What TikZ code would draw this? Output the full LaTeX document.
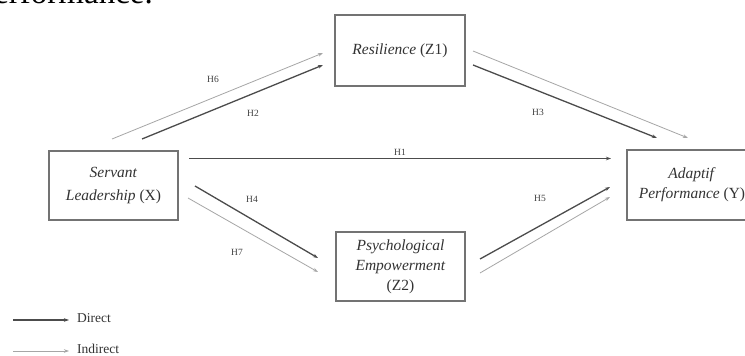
\documentclass[tikz,border=0pt]{standalone}
\usepackage{fontspec}
\setmainfont{Liberation Serif}
\usetikzlibrary{arrows.meta}
\begin{document}
\begin{tikzpicture}[x=1pt,y=-1pt,
  box/.style={draw=black!55,line width=1.1pt,minimum width=129pt,minimum height=69pt,inner sep=0pt,align=center,text=black!80,font=\fontsize{15.5}{20}\selectfont},
  direct/.style={draw=black!70,line width=1.3pt,-{Stealth[length=5pt,width=3.5pt]}},
  indirect/.style={draw=black!35,line width=0.8pt,-{Stealth[length=5pt,width=3.5pt]}},
  hlab/.style={font=\fontsize{9.5}{9.5}\selectfont,text=black!75,inner sep=0pt},
  legtext/.style={font=\fontsize{13.5}{14}\selectfont,text=black!80,anchor=west,inner sep=0pt}]
\useasboundingbox (0,0) rectangle (745,356);
\clip (0,0) rectangle (745,356);
\fill[white] (0,0) rectangle (745,356);
% cut-off text above
\node[anchor=base east,inner sep=0pt,font=\fontsize{33}{33}\selectfont,text=black] (toptext) at (153,3) {Performance.};
% boxes
\node[box,minimum width=130pt,minimum height=71pt] (z1) at (400,50.5) {\textit{Resilience} (Z1)};
\node[box,font=\fontsize{15.5}{23}\selectfont] (x) at (113.5,185.5) {\textit{Servant}\\\textit{Leadership} (X)};
\node[box] (z2) at (400.5,266.5) {\textit{Psychological}\\\textit{Empowerment}\\(Z2)};
\node[box,minimum width=130pt,minimum height=70pt] (y) at (692,185) {\textit{Adaptif}\\\textit{Performance} (Y)};
% connector end points
\coordinate (h6s) at (112,139); \coordinate (h6e) at (323,53);
\coordinate (h2s) at (142,139); \coordinate (h2e) at (323,65);
\coordinate (h3ds) at (473,65); \coordinate (h3de) at (657,138);
\coordinate (h3is) at (473,51); \coordinate (h3ie) at (688,138);
\coordinate (h1s) at (189,158.5); \coordinate (h1e) at (611,158.5);
\coordinate (h4s) at (195,186); \coordinate (h4e) at (318,258);
\coordinate (h7s) at (188,198); \coordinate (h7e) at (318,272);
\coordinate (h5s) at (480,259); \coordinate (h5e) at (610,187);
\coordinate (h5is) at (480,273); \coordinate (h5ie) at (610,197);
% connectors
\draw[indirect] (h6s) -- (h6e);
\draw[direct] (h2s) -- (h2e);
\draw[direct] (h3ds) -- (h3de);
\draw[indirect] (h3is) -- (h3ie);
\draw[direct] (h1s) -- (h1e);
\draw[direct] (h4s) -- (h4e);
\draw[indirect] (h7s) -- (h7e);
\draw[direct] (h5s) -- (h5e);
\draw[indirect] (h5is) -- (h5ie);
% labels
\node[hlab] (l6) at (213,79) {H6};
\node[hlab] (l2) at (253,113) {H2};
\node[hlab] (l3) at (538,112) {H3};
\node[hlab] (l1) at (400,152) {H1};
\node[hlab] (l4) at (252,199) {H4};
\node[hlab] (l7) at (237,252) {H7};
\node[hlab] (l5) at (540,198) {H5};
% legend
\coordinate (ld1) at (13,320); \coordinate (ld2) at (69,320);
\coordinate (li1) at (13,351); \coordinate (li2) at (69,351);
\draw[direct] (ld1) -- (ld2);
\draw[indirect] (li1) -- (li2);
\node[legtext] (dtext) at (77,318) {Direct};
\node[legtext] (itext) at (77,348.5) {Indirect};
\end{tikzpicture}
\end{document}
